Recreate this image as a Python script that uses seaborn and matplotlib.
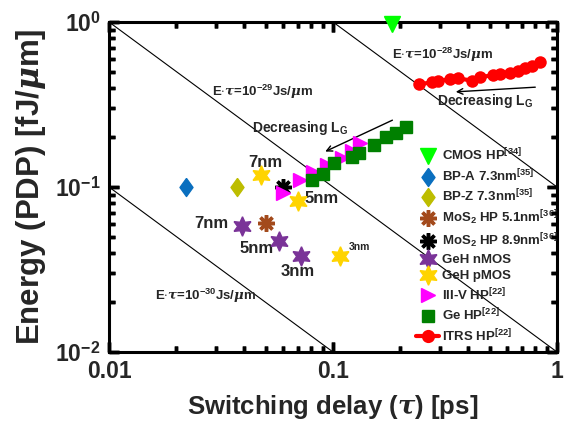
import numpy as np
import matplotlib
matplotlib.use("Agg")
import matplotlib.pyplot as plt
import seaborn as sns
from matplotlib.lines import Line2D
from matplotlib.ticker import LogLocator, FixedLocator, FixedFormatter, NullFormatter

# ---------------- data ----------------
cmos_x = [0.183]; cmos_y = [0.975]
bpa_x = [0.0221]; bpa_y = [0.0995]
bpz_x = [0.0372]; bpz_y = [0.0995]
mos51_x = [0.0501]; mos51_y = [0.0608]
mos89_x = [0.0600]; mos89_y = [0.100]
gehn_x = [0.0391, 0.0575, 0.0722]; gehn_y = [0.0580, 0.0473, 0.0382]
gehp_x = [0.0478, 0.0700, 0.108]; gehp_y = [0.118, 0.0826, 0.0382]
iii_x = [0.0596, 0.0712, 0.0817, 0.0938, 0.110, 0.121, 0.132]
iii_y = [0.0916, 0.110, 0.124, 0.136, 0.149, 0.166, 0.184]
ge_x = [0.0809, 0.0905, 0.1013, 0.121, 0.1311, 0.153, 0.172, 0.192, 0.212]
ge_y = [0.110, 0.120, 0.140, 0.151, 0.160, 0.180, 0.200, 0.212, 0.232]
itrs_x = [0.2425, 0.276, 0.295, 0.333, 0.362, 0.416, 0.453, 0.519, 0.556,
          0.617, 0.671, 0.719, 0.771, 0.839]
itrs_y = [0.419, 0.431, 0.439, 0.451, 0.456, 0.441, 0.462, 0.477, 0.484,
          0.489, 0.505, 0.524, 0.543, 0.570]
edp_consts = [1e-1, 1e-2, 1e-3]   # fJ*ps  (=1e-28, 1e-29, 1e-30 Js/um)
xticks = [0.01, 0.1, 1]
xticklabels = ["0.01", "0.1", "1"]
yticks = [0.01, 0.1, 1]
yticklabels = [r"$\mathbf{10}^{\mathbf{-2}}$", r"$\mathbf{10}^{\mathbf{-1}}$", r"$\mathbf{10}^{\mathbf{0}}$"]

# ---------------- style ----------------
sns.set_style("ticks")
plt.rcParams["font.family"] = ["Liberation Sans", "DejaVu Sans"]
plt.rcParams["font.weight"] = "bold"
plt.rcParams["mathtext.fontset"] = "custom"
plt.rcParams["mathtext.rm"] = "Liberation Sans:bold"
plt.rcParams["mathtext.bf"] = "Liberation Sans:bold"
plt.rcParams["mathtext.it"] = "DejaVu Serif:italic"

rect = [0.19326, 0.20542, 0.79433, 0.74492]
fig = plt.figure(figsize=(5.64, 4.43), dpi=100)
ax = fig.add_axes(rect)
ax.set_xscale("log"); ax.set_yscale("log")
ax.set_xlim(0.01, 1); ax.set_ylim(0.01, 1)

# constant E*tau lines
tau = np.array([0.001, 10])
for c in edp_consts:
    sns.lineplot(x=tau, y=c / tau, ax=ax, color="black", lw=0.8, zorder=1)

star6 = (6, 1, 0)
diam = [(0, 1), (0.72, 0), (0, -1), (-0.72, 0), (0, 1)]

h = []
h += ax.plot(cmos_x, cmos_y, ls="none", marker="v", ms=11, color="#00ff00", clip_on=False, zorder=5, label=r"CMOS HP$^{\mathbf{[34]}}$")
h += ax.plot(bpa_x, bpa_y, ls="none", marker=diam, ms=13, color="#0a6fbf", zorder=4, label=r"BP-A 7.3nm$^{\mathbf{[35]}}$")
h += ax.plot(bpz_x, bpz_y, ls="none", marker=diam, ms=13, color="#bdbd00", zorder=4, label=r"BP-Z 7.3nm$^{\mathbf{[35]}}$")
h += ax.plot(mos51_x, mos51_y, ls="none", marker=(8, 2, 0), ms=12, mew=2.5, color="#a34a1c", zorder=4, label=r"MoS$_{\mathbf{2}}$ HP 5.1nm$^{\mathbf{[36]}}$")
h += ax.plot(mos89_x, mos89_y, ls="none", marker=(8, 2, 0), ms=12, mew=2.5, color="black", zorder=4, label=r"MoS$_{\mathbf{2}}$ HP 8.9nm$^{\mathbf{[36]}}$")
h += ax.plot(gehn_x, gehn_y, ls="none", marker=star6, ms=14, color="#7a3398", zorder=4, label="GeH nMOS")
h += ax.plot(gehp_x, gehp_y, ls="none", marker=star6, ms=14, color="#ffd400", zorder=4, label="GeH pMOS")
h += ax.plot(iii_x, iii_y, ls="none", marker=">", ms=10, color="#ff00ff", zorder=4, label=r"III-V HP$^{\mathbf{[22]}}$")
h += ax.plot(ge_x, ge_y, ls="none", marker="s", ms=8, color="#008000", zorder=4, label=r"Ge HP$^{\mathbf{[22]}}$")
sns.lineplot(x=itrs_x, y=itrs_y, ax=ax, color="#ff0000", lw=3, marker="o", ms=9, mew=0, zorder=4)
h.append(Line2D([], [], color="#ff0000", lw=3, marker="o", ms=9.5, mew=0, label=r"ITRS HP$^{\mathbf{[22]}}$"))

leg = ax.legend(handles=h, loc="upper left", bbox_to_anchor=(416 / 564, 1 - 147 / 443),
                bbox_transform=fig.transFigure, frameon=False, fontsize=9.5,
                handlelength=1.75, handletextpad=0.2, labelspacing=0.3,
                borderpad=0, borderaxespad=0, numpoints=1)

# annotations
tk = dict(fontsize=9.5, fontweight="bold")
ax.text(0.1834, 0.631, r"E$\cdot\tau$=10$^{\mathbf{-28}}$Js/$\mu$m", ha="left", va="center", **tk)
ax.text(0.0288, 0.3765, r"E$\cdot\tau$=10$^{\mathbf{-29}}$Js/$\mu$m", ha="left", va="center", **tk)
ax.text(0.01605, 0.02184, r"E$\cdot\tau$=10$^{\mathbf{-30}}$Js/$\mu$m", ha="left", va="center", **tk)
ax.annotate("", xy=(0.3434, 0.3765), xytext=(0.823, 0.4036),
            arrowprops=dict(arrowstyle="->", color="black", lw=1))
ax.text(0.290, 0.3334, r"Decreasing L$_{\mathbf{G}}$", ha="left", va="center", fontsize=10, fontweight="bold")
ax.annotate("", xy=(0.0900, 0.1614), xytext=(0.189, 0.2583),
            arrowprops=dict(arrowstyle="->", color="black", lw=1))
ax.text(0.0435, 0.2278, r"Decreasing L$_{\mathbf{G}}$", ha="left", va="center", fontsize=10, fontweight="bold")

nk = dict(fontsize=12, fontweight="bold", ha="center", va="center")
ax.text(0.0497, 0.1398, "7nm", **nk)
ax.text(0.0893, 0.0854, "5nm", **nk)
ax.text(0.02861, 0.0603, "7nm", **nk)
ax.text(0.04546, 0.0425, "5nm", **nk)
ax.text(0.0698, 0.0307, "3nm", **nk)
ax.text(0.1306, 0.0435, "3nm", fontsize=7.5, fontweight="bold", ha="center", va="center")

# axes styling
for s in ax.spines.values():
    s.set_linewidth(2.2)
    s.set_color("black")
ax.set_xlabel(r"Switching delay ($\tau$) [ps]", fontsize=18.5, fontweight="bold", labelpad=7)
ax.set_ylabel(r"Energy (PDP) [fJ/$\mu$m]", fontsize=22.5, fontweight="bold", labelpad=5)
for axis, tv, tl in ((ax.xaxis, xticks, xticklabels), (ax.yaxis, yticks, yticklabels)):
    axis.set_major_locator(FixedLocator(tv))
    axis.set_major_formatter(FixedFormatter(tl))
    axis.set_minor_locator(LogLocator(base=10, subs=np.arange(2, 10), numticks=20))
    axis.set_minor_formatter(NullFormatter())
ax.tick_params(which="both", direction="in", top=True, right=True, width=2.5, color="black")
ax.tick_params(which="major", length=7, labelsize=16.5, pad=6)
ax.tick_params(which="minor", length=4.5)

# inward tick marks on all four sides, placed at the axis tick locations
maj = np.array(xticks)
mnr = np.array([k * 10.0 ** d for d in (-2, -1) for k in range(2, 10)])
xt = ax.get_xaxis_transform()
yt = ax.get_yaxis_transform()
for vals, lx, ly in ((maj, 0.0217, 0.0294), (mnr, 0.014, 0.019)):
    ax.vlines(vals, 0, ly, transform=xt, colors="black", lw=2.5, clip_on=False, zorder=6)
    ax.vlines(vals, 1 - ly, 1, transform=xt, colors="black", lw=2.5, clip_on=False, zorder=6)
    ax.hlines(vals, 0, lx, transform=yt, colors="black", lw=2.5, clip_on=False, zorder=6)
    ax.hlines(vals, 1 - lx, 1, transform=yt, colors="black", lw=2.5, clip_on=False, zorder=6)
ax.set_xlim(0.01, 1); ax.set_ylim(0.01, 1)

fig.savefig("out.png", dpi=100)
